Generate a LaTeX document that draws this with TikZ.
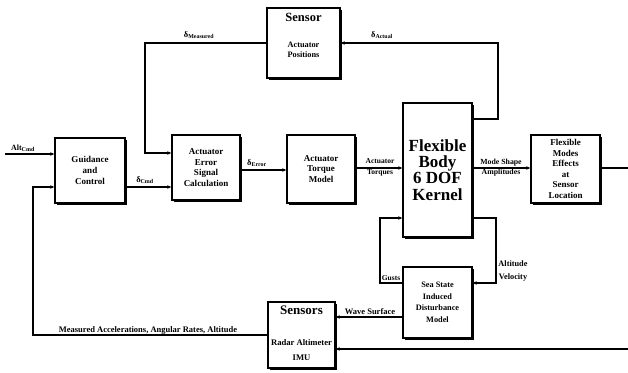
\documentclass[tikz,border=0pt]{standalone}
\usepackage{fontspec}
\setmainfont{Liberation Serif}
\usetikzlibrary{arrows.meta,shadows}
\begin{document}
\begin{tikzpicture}[x=1pt,y=-1pt,
  blk/.style={draw,line width=1.4pt,fill=white,
    drop shadow={shadow xshift=2.2pt,shadow yshift=-2.2pt,fill=black,opacity=1},
    inner sep=0pt,align=center,font=\bfseries\fontsize{9}{10.8}\selectfont},
  arr/.style={line width=1.3pt,-{Stealth[length=4pt,width=3.5pt]}},
  ln/.style={line width=1.3pt},
  lbl/.style={font=\bfseries\fontsize{8.5}{9}\selectfont,inner sep=0pt,align=center}]
\useasboundingbox (0,0) rectangle (628,372);

% blocks
\node[blk,minimum width=70pt,minimum height=65pt] (gc) at (90,170.5) {Guidance\\and\\Control};
\node[blk,minimum width=68pt,minimum height=65pt] (aes) at (206,167.5) {Actuator\\Error\\Signal\\Calculation};
\node[blk,minimum width=68pt,minimum height=68pt] (atm) at (321,169) {Actuator\\Torque\\Model};
\node[blk,minimum width=69pt,minimum height=134pt,font=\bfseries\fontsize{17}{16.3}\selectfont] (fb) at (437.5,170) {Flexible\\Body\\6 DOF\\Kernel};
\node[blk,minimum width=69pt,minimum height=68pt,font=\bfseries\fontsize{9}{10.6}\selectfont] (fm) at (565.5,169) {Flexible\\Modes\\Effects\\at\\Sensor\\Location};
\node[blk,minimum width=73pt,minimum height=70pt] (sensor) at (303.5,43) {};
\node[blk,minimum width=69pt,minimum height=71pt,font=\bfseries\fontsize{8.3}{11.5}\selectfont] (sea) at (437.5,302.5) {Sea State\\Induced\\Disturbance\\Model};
\node[blk,minimum width=67pt,minimum height=66pt] (sensors) at (301.5,335) {};

% texts inside sensor boxes
\node[font=\bfseries\fontsize{12.5}{13}\selectfont,inner sep=0pt] (sensorT) at (303.5,17) {Sensor};
\node[lbl,font=\bfseries\fontsize{8.3}{10}\selectfont] (sensorS) at (303.5,50) {Actuator\\Positions};
\node[font=\bfseries\fontsize{13}{13}\selectfont,inner sep=0pt] (sensorsT) at (301.5,310) {Sensors};
\node[lbl,font=\bfseries\fontsize{8.6}{9}\selectfont] (radar) at (301.5,343) {Radar Altimeter};
\node[lbl,font=\bfseries\fontsize{8.6}{9}\selectfont] (imu) at (301.5,358) {IMU};

% coordinates
\coordinate (in) at (5,154);
\coordinate (c1) at (0,187);
\coordinate (m1) at (145,153);
\coordinate (a1) at (498,119);
\coordinate (e1) at (0,170);
\coordinate (t1) at (0,168);
\coordinate (out) at (628,168);
\coordinate (g1) at (380,283);
\coordinate (g2) at (380,218);
\coordinate (v1) at (496,218);
\coordinate (v2) at (496,283);
\coordinate (ws) at (0,317);
\coordinate (bin) at (628,349);
\coordinate (fbk) at (33,187);

% connectors
\draw[arr] (in) -- (in -| gc.west);
\draw[arr] (gc.east |- c1) -- (aes.west |- c1);
\draw[arr] (sensor.west) -| (m1) -- (m1 -| aes.west);
\draw[arr] (a1 -| fb.east) -- (a1) |- (sensor.east);
\draw[arr] (aes.east |- e1) -- (atm.west |- e1);
\draw[arr] (atm.east |- t1) -- (fb.west |- t1);
\draw[arr] (fb.east |- t1) -- (fm.west |- t1);
\draw[ln] (fm.east |- out) -- (out);
\draw[arr] (g1 -| sea.west) -- (g1) -- (g2) -- (g2 -| fb.west);
\draw[arr] (v1 -| fb.east) -- (v1) -- (v2) -- (v2 -| sea.east);
\draw[arr] (sea.west |- ws) -- (sensors.east |- ws);
\draw[arr] (bin) -- (bin -| sensors.east);
\draw[arr] (sensors.west) -| (fbk) -- (fbk -| gc.west);

% labels
\node[lbl,font=\bfseries\fontsize{8}{9}\selectfont] (lalt) at (23,148) {Alt\textsubscript{Cmd}};
\node[lbl] (lcmd) at (145,180) {δ\textsubscript{Cmd}};
\node[lbl] (lmeas) at (199,35) {δ\textsubscript{Measured}};
\node[lbl] (lact) at (382,35) {δ\textsubscript{Actual}};
\node[lbl] (lerr) at (257,163) {δ\textsubscript{Error}};
\node[lbl,font=\bfseries\fontsize{7.5}{10.5}\selectfont] (ltq) at (380,167.5) {Actuator\\Torques};
\node[lbl,font=\bfseries\fontsize{7.8}{10.5}\selectfont] (lmode) at (501,167.5) {Mode Shape\\Amplitudes};
\node[lbl,font=\bfseries\fontsize{7.5}{9}\selectfont] (lgust) at (391,278) {Gusts};
\node[lbl,font=\bfseries\fontsize{8.3}{12.5}\selectfont] (lvel) at (513,271) {Altitude\\Velocity};
\node[lbl] (lwave) at (370,311.5) {Wave Surface};
\node[lbl] (lmeasacc) at (148,330.5) {Measured Accelerations, Angular Rates, Altitude};
\end{tikzpicture}
\end{document}
